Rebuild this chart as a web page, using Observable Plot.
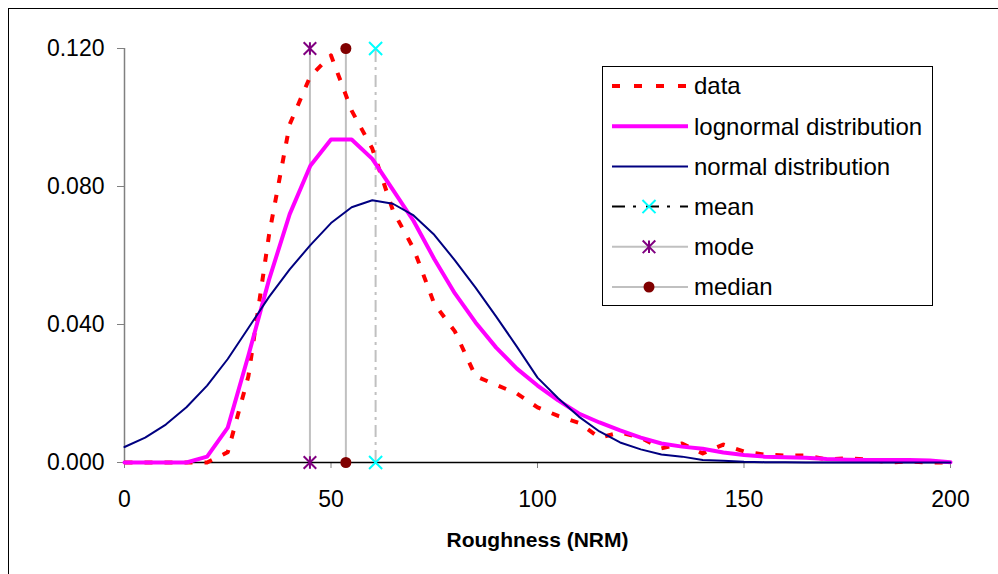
<!DOCTYPE html>
<html>
<head>
<meta charset="utf-8">
<script src="https://cdn.jsdelivr.net/npm/d3@7"></script>
<script src="https://cdn.jsdelivr.net/npm/@observablehq/plot@0.6"></script>
<style>
  body { margin: 0; background: #fff; }
  #wrap { position: relative; width: 998px; height: 574px; overflow: hidden; font-family: "Liberation Sans", Arial, sans-serif; }
  #border { position: absolute; left: 8px; top: 8px; width: 1100px; height: 700px; border-left: 1px solid #000; border-top: 1px solid #000; pointer-events: none; }
  #legend { position: absolute; left: 602px; top: 66px; }
</style>
</head>
<body>
<div id="wrap"><div id="border"></div></div>
<script>
// ---- data ----
const dataX = [0, 5, 10, 15, 20, 25, 30, 35, 40, 45, 50, 55, 60, 65, 70, 75, 80, 85, 90, 95, 100,
  105, 110, 115, 120, 125, 130, 135, 140, 145, 150, 155, 160, 165, 170, 175, 180, 185, 190, 195, 200];
const dataY = [0, 0, 0, 0, 0, 0.003, 0.025, 0.066, 0.098, 0.112, 0.118, 0.102, 0.091, 0.073, 0.062, 0.046, 0.038, 0.025, 0.0225, 0.020, 0.016,
  0.0135, 0.0115, 0.0072, 0.0087, 0.0072, 0.0041, 0.0055, 0.0026, 0.0052, 0.0032, 0.0023, 0.0020, 0.0020, 0.0009, 0.0012, 0.0009, 0, 0.0003, 0, 0];

const fitX = [0, 5, 10, 15, 20, 25, 30, 35, 40, 45, 50, 55, 60, 65, 70, 75, 80, 85, 90, 95, 100,
  105, 110, 115, 120, 125, 130, 135, 140, 145, 150, 155, 160, 165, 170, 175, 180, 185, 190, 195, 200];
const lognormalY = [0, 0, 0, 0, 0.0017, 0.0101, 0.031, 0.053, 0.072, 0.086, 0.0936, 0.0936, 0.088, 0.079, 0.070, 0.059, 0.049, 0.0406, 0.0333, 0.0272, 0.0223,
  0.018, 0.0142, 0.0116, 0.0093, 0.0072, 0.0055, 0.0046, 0.0040, 0.0029, 0.0022, 0.0017, 0.0015, 0.0014, 0.0010, 0.0008, 0.0007, 0.0007, 0.0007, 0.0006, 0.0001];
const normalY = [0.0045, 0.0072, 0.011, 0.016, 0.0223, 0.030, 0.039, 0.048, 0.056, 0.063, 0.0694, 0.074, 0.076, 0.075, 0.0716, 0.066, 0.0586, 0.0507, 0.0423, 0.0336, 0.0246,
  0.0186, 0.0133, 0.009, 0.0058, 0.0038, 0.0023, 0.0017, 0.0007, 0.0005, 0.0002, 0.0001, 0.0001, 0, 0, 0, 0, 0, 0, 0, 0];

const statNames = ["mean", "mode", "median"];
const statX = [60.8, 44.9, 53.6];
const statLevels = [0, 0.12];

const xTicks = [0, 50, 100, 150, 200];
const yTicks = [0, 0.04, 0.08, 0.12];

const seriesNames = ["data", "lognormal distribution", "normal distribution", "mean", "mode", "median"];

// ---- tables ----
const dataRows = dataX.map((x, i) => ({x, y: dataY[i]}));
const lognRows = fitX.map((x, i) => ({x, y: lognormalY[i]}));
const normRows = fitX.map((x, i) => ({x, y: normalY[i]}));
const statRows = statNames.map((name, i) => ({name, x: statX[i]}));
const statPts = statRows.flatMap(s => statLevels.map(y => ({name: s.name, x: s.x, y})));

const GRAY = "#c0c0c0";
const font = "'Liberation Sans', Arial, sans-serif";

// star marker: vertical stroke plus an X
const starSymbol = {
  draw(ctx, size) {
    const r = Math.sqrt(size / Math.PI) * 1.05;
    ctx.moveTo(0, -r); ctx.lineTo(0, r);
    ctx.moveTo(-r, -r); ctx.lineTo(r, r);
    ctx.moveTo(-r, r); ctx.lineTo(r, -r);
  }
};

const chart = Plot.plot({
  width: 998,
  height: 574,
  marginLeft: 124,
  marginRight: 48,
  marginTop: 48,
  marginBottom: 112,
  style: {fontFamily: font, background: "transparent", overflow: "visible"},
  x: {domain: [0, 200]},
  y: {domain: [0, 0.12]},
  marks: [
    Plot.axisY({ticks: yTicks, tickFormat: d3.format(".3f"), tickSize: 7, tickPadding: 13, fontSize: 23, stroke: "#808080", color: "#000", label: null}),
    Plot.axisX({ticks: xTicks, tickFormat: d3.format("d"), tickSize: 6, tickPadding: 22, fontSize: 23, stroke: "#808080", color: "#000", label: null}),
    Plot.ruleX([0], {stroke: "#808080", strokeWidth: 1.5}),
    Plot.ruleX(statRows.filter(d => d.name === "mean"), {x: "x", y1: 0, y2: 0.12, stroke: GRAY, strokeWidth: 2, strokeDasharray: "12,5,3,5"}),
    Plot.ruleX(statRows.filter(d => d.name !== "mean"), {x: "x", y1: 0, y2: 0.12, stroke: GRAY, strokeWidth: 2}),
    Plot.ruleY([0], {stroke: "#000", strokeWidth: 1.5}),
    Plot.line(dataRows, {x: "x", y: "y", stroke: "#ff0000", strokeWidth: 4, strokeDasharray: "8,12", strokeLinecap: "butt"}),
    Plot.line(lognRows, {x: "x", y: "y", stroke: "#ff00ff", strokeWidth: 4}),
    Plot.line(normRows, {x: "x", y: "y", stroke: "#000080", strokeWidth: 2}),
    Plot.dot(statPts.filter(d => d.name === "mean"), {x: "x", y: "y", symbol: "times", r: 6, stroke: "#00ffff", strokeWidth: 2}),
    Plot.dot(statPts.filter(d => d.name === "mode"), {x: "x", y: "y", symbol: starSymbol, r: 6, stroke: "#800080", strokeWidth: 2}),
    Plot.dot(statPts.filter(d => d.name === "median"), {x: "x", y: "y", symbol: "circle", r: 5.5, fill: "#800000", stroke: "none"}),
    Plot.text(["Roughness (NRM)"], {frameAnchor: "bottom", dy: 78, fontSize: 21, fontWeight: "bold", fill: "#000", lineAnchor: "middle"})
  ]
});
document.getElementById("wrap").prepend(chart);

// ---- legend (overlay box) ----
const W = 331, H = 240;
const leg = d3.create("svg").attr("id", "legend").attr("width", W).attr("height", H)
  .style("font-family", font);
leg.append("rect").attr("x", 0.5).attr("y", 0.5).attr("width", W - 1).attr("height", H - 1)
  .attr("fill", "#fff").attr("stroke", "#000").attr("stroke-width", 1);
const rowY = i => 20 + i * 40.2;
const lx1 = 10, lx2 = 86, mx = 47, tx = 92;
const styles = [
  {stroke: "#ff0000", w: 4, dash: "8,14"},
  {stroke: "#ff00ff", w: 4},
  {stroke: "#000080", w: 2},
  {stroke: "#000", w: 2, dash: "13,8,3,10"},
  {stroke: GRAY, w: 2},
  {stroke: GRAY, w: 2}
];
seriesNames.forEach((name, i) => {
  const y = rowY(i), s = styles[i];
  const ln = leg.append("line").attr("x1", lx1).attr("x2", lx2).attr("y1", y).attr("y2", y)
    .attr("stroke", s.stroke).attr("stroke-width", s.w);
  if (s.dash) ln.attr("stroke-dasharray", s.dash);
  leg.append("text").attr("x", tx).attr("y", y).attr("dy", "0.35em").attr("font-size", 24).attr("fill", "#000").text(name);
});
const symPath = (type, r) => d3.symbol(type, Math.PI * r * r)();
leg.append("path").attr("transform", `translate(${mx},${rowY(3)})`).attr("d", symPath(d3.symbolTimes, 6)).attr("stroke", "#00ffff").attr("stroke-width", 2).attr("fill", "none");
leg.append("path").attr("transform", `translate(${mx},${rowY(4)})`).attr("d", symPath(starSymbol, 6)).attr("stroke", "#800080").attr("stroke-width", 2).attr("fill", "none");
leg.append("circle").attr("cx", mx).attr("cy", rowY(5)).attr("r", 5.5).attr("fill", "#800000");
document.getElementById("wrap").append(leg.node());
</script>
</body>
</html>
